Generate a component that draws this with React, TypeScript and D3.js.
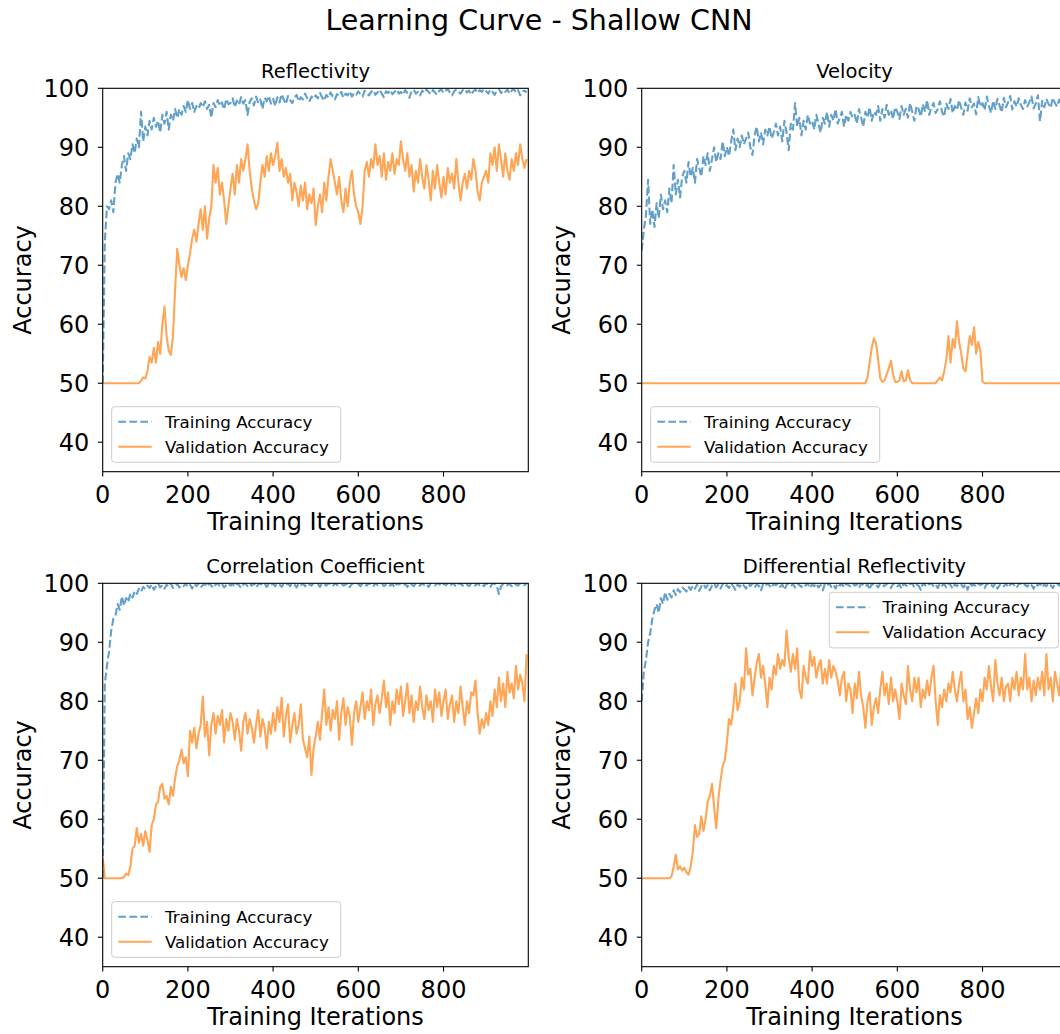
import React from 'react';
import * as d3 from 'd3';

const FIG_TITLE = 'Learning Curve - Shallow CNN';
const PANEL_TITLES = ['Reflectivity', 'Velocity', 'Correlation Coefficient', 'Differential Reflectivity'];
const X_LABEL = 'Training Iterations';
const Y_LABEL = 'Accuracy';
const SERIES_NAMES = ['Training Accuracy', 'Validation Accuracy'];
const X_TICKS = [0, 200, 400, 600, 800];
const Y_TICKS = [40, 50, 60, 70, 80, 90, 100];
const X_DOMAIN = [0, 999];
const Y_DOMAIN = [35, 100];
// one sample every 5 training iterations
const ITERATIONS = d3.range(0, 1000, 5);

const reflectivityTrain = [
  50, 74, 80, 79.5, 81, 79, 84, 85.5, 84, 87, 88.5, 86, 89, 88, 90.5, 89, 91.5, 90, 96, 91,
  93.5, 92, 94.5, 93, 95, 93.5, 94.5, 92.5, 95.5, 94, 96, 93, 95.5, 94.5, 96.5, 95, 96.5, 95.5, 97, 96,
  98, 96.5, 97.5, 96, 97, 96.5, 97.5, 96.8, 97.8, 96.5, 97.2, 95, 97.5, 96.8, 98, 97, 97.6, 96.4, 98.2, 97.3,
  97.5, 98.3, 96.8, 97.9, 97.2, 98.5, 97.4, 98, 95.5, 97.7, 98.3, 97.1, 98.6, 97.5, 98.1, 96.5, 98.4, 97.8, 98.7, 97.4,
  98.2, 97, 98.5, 97.6, 99, 98.1, 97.3, 98.7, 98, 97.5, 98.4, 98.9, 97.8, 98.5, 98.1, 99.1, 98.3, 97.7, 98.6, 98.2,
  98.8, 98.3, 99.2, 98.5, 97.9, 98.9, 98.4, 99.3, 98.6, 98.1, 99, 98.7, 99.4, 98.4, 99.1, 98.8, 99.5, 98.6, 99.2, 98.9,
  99.5, 99, 98.6, 99.6, 99.1, 98.8, 99.4, 99.7, 98.9, 99.3, 99.8, 99.1, 98.5, 99.5, 99.2, 99.7, 99, 99.4, 99.8, 99.1,
  99.4, 98.9, 99.7, 99.2, 98.4, 99.5, 99.8, 99.1, 99.4, 98.8, 99.6, 99.2, 99.8, 99.4, 99, 99.7, 99.3, 98.9, 99.6, 99.8,
  99.2, 99.6, 99.9, 99.3, 98.8, 99.5, 99.8, 99.4, 99.1, 99.7, 99.9, 99.3, 99.6, 98.9, 99.5, 99.8, 99.2, 99.7, 99.4, 99.9,
  99.5, 99.1, 99.8, 99.4, 98.9, 99.6, 99.9, 99.2, 99.7, 99.4, 99.8, 99.1, 99.6, 99.9, 99.3, 99.7, 98.8, 99.5, 99.6, 99.3,
];

const reflectivityVal = [
  50, 50, 50, 50, 50, 50, 50, 50, 50, 50, 50, 50, 50, 50, 50, 50, 50, 50, 50.4, 51,
  50.8, 52, 54.5, 53.5, 56, 53.5, 57, 55, 60, 63, 58, 55.5, 54.8, 58, 66, 72.8, 70, 68, 69.5, 67.5,
  70, 72, 74.5, 76, 74, 77, 79.5, 76, 80, 74.5, 78, 80, 87, 84, 86.5, 82, 84, 81, 77, 80,
  83, 85.5, 82, 87, 84, 88, 86, 88, 90.5, 86, 83, 81, 79.5, 80.5, 84, 87, 85, 88.5, 86, 89,
  87, 88.5, 90.8, 86, 88, 85, 86.5, 84, 85.5, 81, 84, 82.5, 80, 83.5, 81, 84, 79.5, 82, 80.5, 83,
  76.8, 80, 82, 79, 84, 81, 85, 88, 86, 84, 82, 85, 81, 79, 83, 80, 84, 86, 82, 80,
  79, 77, 80, 86, 87.5, 85, 88, 86.5, 90.5, 87, 88.5, 85, 89, 84.5, 87.5, 86, 89, 85.5, 88, 87,
  91, 88, 86, 89, 85, 87, 82.5, 86, 84, 88, 85, 83, 87, 84.5, 81, 86, 83, 87, 84, 81.5,
  85, 82, 86.5, 84, 85.5, 83, 88, 84, 81, 84, 85.5, 83, 86, 84.5, 88, 86, 82.5, 81, 84, 85,
  86, 84, 89, 87, 90, 86, 90.5, 88, 85, 89, 86, 84.5, 88, 86, 89, 87, 90.5, 88, 86.5, 88,
];

const velocityTrain = [
  72.5, 76, 78.5, 84.5, 77, 79.5, 76.5, 80.5, 78, 82, 79.5, 81, 79, 83, 80.5, 87, 82, 84.5, 81.5, 85,
  86, 84, 87.5, 85, 86.5, 84, 88, 86.5, 85, 88.5, 87, 89, 86, 88, 90, 87.5, 89, 88, 91, 88.5,
  90, 88.5, 91, 93, 89.5, 91.5, 90, 92, 90.5, 91.5, 92.5, 90, 88.7, 92, 93.5, 91, 92.5, 90.5, 93, 92,
  93.5, 91.5, 92.5, 94, 92, 93.5, 91, 94.5, 92.5, 89.5, 94, 93, 97.5, 93.5, 95, 92, 94.5, 93, 95.5, 94,
  94.5, 93, 95.5, 94, 92.5, 95, 94, 96, 93.5, 95.5, 94.5, 96.5, 94, 95, 96, 93.5, 95.5, 94.5, 96, 95,
  95.5, 94, 96.5, 95, 93.5, 96, 95, 96.8, 94.5, 96, 95.5, 97, 94.5, 96.5, 95, 97.2, 95.5, 96.3, 94.8, 96.8,
  96, 94.8, 97, 95.5, 96.5, 95, 97.5, 96, 94.5, 97, 96.5, 95.2, 97.3, 96, 98, 95.5, 96.8, 97.5, 95.8, 96.5,
  97.8, 96, 95.2, 97.4, 96.5, 98.2, 95.8, 97, 96.3, 98, 96.7, 95.5, 97.6, 96.2, 98.3, 96.8, 97.4, 95.6, 98.5, 96.9,
  97.5, 96.3, 98.6, 97, 95.8, 97.9, 96.5, 98.2, 97.1, 95.9, 98.4, 96.8, 97.6, 98.7, 96.4, 97.8, 96.9, 98.3, 97.2, 96.5,
  98, 96.9, 97.7, 98.6, 96.6, 97.4, 98.8, 94.4, 97.9, 96.8, 98.2, 97.3, 96.7, 98.4, 97.5, 96.9, 98.1, 97.2, 97.8, 97.1,
];

const velocityVal = [
  50, 50, 50, 50, 50, 50, 50, 50, 50, 50, 50, 50, 50, 50, 50, 50, 50, 50, 50, 50,
  50, 50, 50, 50, 50, 50, 50, 50, 50, 50, 50, 50, 50, 50, 50, 50, 50, 50, 50, 50,
  50, 50, 50, 50, 50, 50, 50, 50, 50, 50, 50, 50, 50, 50, 50, 50, 50, 50, 50, 50,
  50, 50, 50, 50, 50, 50, 50, 50, 50, 50, 50, 50, 50, 50, 50, 50, 50, 50, 50, 50,
  50, 50, 50, 50, 50, 50, 50, 50, 50, 50, 50, 50, 50, 50, 50, 50, 50, 50, 50, 50,
  50, 50, 50, 50, 50, 50, 51, 53.5, 56, 57.6, 56.8, 54, 50.8, 50.2, 50.5, 51.5, 52.5, 53.8, 51.5, 50.2,
  50.2, 50.5, 52, 50.3, 50.5, 52.2, 50.5, 50, 50, 50, 50, 50, 50, 50, 50, 50, 50, 50, 50, 50.5,
  51, 50.5, 52, 54, 58, 53.5, 57.5, 56, 60.5, 57, 55, 52.5, 52, 55, 58, 56.5, 59.5, 55, 57, 55.5,
  50.3, 50, 50, 50, 50, 50, 50, 50, 50, 50, 50, 50, 50, 50, 50, 50, 50, 50, 50, 50,
  50, 50, 50, 50, 50, 50, 50, 50, 50, 50, 50, 50, 50, 50, 50, 50, 50, 50, 50, 50,
];

const correlationTrain = [
  50, 83, 86, 88.5, 92, 94, 94.5, 96.5, 95.5, 97.8, 96.2, 97.5, 96.8, 98.3, 97.6, 98.7, 98.2, 99.1, 98.6, 99.4,
  99, 99.6, 99.2, 99.8, 98.9, 99.5, 100, 99.3, 99.7, 99.1, 99.8, 99.4, 100, 99.2, 99.6, 99.9, 99.3, 99.7, 99.5, 100,
  99.4, 99.8, 99.1, 99.9, 99.5, 100, 99.3, 99.7, 99.9, 99.4, 100, 99.6, 99.2, 99.8, 100, 99.5, 99.9, 99.3, 99.7, 100,
  99.6, 99.9, 99.4, 100, 99.7, 99.2, 99.8, 100, 99.5, 99.9, 99.6, 100, 99.3, 99.8, 100, 99.6, 99.9, 99.4, 100, 99.7,
  99.9, 99.5, 100, 99.8, 99.4, 100, 99.7, 99.9, 99.5, 100, 99.8, 99.3, 100, 99.7, 99.9, 99.5, 100, 99.8, 99.6, 100,
  99.7, 99.9, 99.4, 100, 99.8, 99.6, 100, 99.9, 99.5, 100, 99.7, 99.9, 100, 99.6, 99.8, 100, 99.4, 99.9, 100, 99.7,
  99.9, 99.5, 100, 99.8, 99.6, 100, 99.9, 99.4, 100, 99.7, 99.9, 100, 99.5, 99.8, 100, 99.6, 99.9, 99.3, 100, 99.8,
  100, 99.6, 99.9, 99.4, 100, 99.8, 99.5, 100, 99.9, 99.6, 100, 99.7, 99.9, 99.4, 100, 99.8, 99.6, 100, 99.9, 99.5,
  100, 99.7, 99.9, 99.5, 100, 99.8, 99.4, 100, 99.9, 99.6, 100, 99.8, 99.5, 100, 99.9, 99.6, 100, 99.7, 99.9, 99.5,
  100, 99.8, 99.4, 100, 99.9, 99.6, 98.2, 99.5, 99.9, 100, 99.7, 99.9, 99.5, 100, 99.8, 99.6, 100, 99.9, 99.7, 100,
];

const correlationVal = [
  53.5, 50, 50, 50, 50, 50, 50, 50, 50, 50, 50.2, 50.8, 50.5, 52, 55, 55.5, 58.5, 56, 57.5, 55.5,
  58, 56.5, 54.5, 59, 60, 62.5, 63, 65.5, 66, 63.5, 64, 62.5, 65.5, 64, 67, 69, 70, 71.8, 69.5, 70.5,
  67.3, 75, 73, 75.5, 72, 74.5, 76, 80.8, 74, 76.5, 70.8, 76, 78, 74.5, 77.5, 76, 78.5, 73, 77, 75,
  78, 76.5, 73.5, 77, 75, 71.6, 76.5, 78, 74.5, 77, 75.5, 73, 76, 78.5, 74, 77, 75.5, 72, 76.5, 74.5,
  78, 75, 79, 76.5, 80.6, 74, 77.5, 79.5, 73, 76, 78, 74.5, 76, 79.5, 73.5, 72, 70.5, 74, 67.5, 72,
  74, 76.5, 73.5, 78, 82, 76, 79, 75, 78.5, 77, 80, 73.5, 78, 80.5, 76, 79, 77.5, 72.6, 78, 80,
  76.5, 79, 81.5, 77, 80, 78.5, 82, 76, 79.5, 81, 78, 80.5, 83.5, 79, 81.5, 76, 80, 78, 82, 79.5,
  82.5, 77.5, 80, 83, 78, 81, 76.5, 80, 78.5, 82.5, 79, 77, 81, 78.5, 80, 76.5, 82, 79, 81.5, 77.5,
  80, 82, 77, 79.5, 81, 76.5, 80, 78, 82.5, 79, 76, 80, 78, 81.5, 81, 83.5, 78, 74.5, 77, 75.5,
  78, 76, 80, 77.5, 82, 79, 84, 80, 83, 79, 85, 81.5, 83, 80.5, 86, 82, 84.5, 83, 80, 88,
];

const diffReflectivityTrain = [
  80, 85, 87, 90, 91.5, 94, 95.5, 96.5, 95, 97.5, 96.5, 98.5, 97.2, 98.2, 97.6, 98.8, 98, 99, 98.5, 99.3,
  99, 98.6, 99.4, 98.9, 99.6, 99.1, 99.8, 98.7, 99.5, 99.9, 99.2, 99.7, 98.8, 99.6, 100, 99.3, 99.8, 99.1, 99.9, 99.4,
  99.7, 99.2, 100, 99.5, 98.9, 99.8, 99.4, 100, 99.6, 99.1, 99.9, 99.5, 100, 99.3, 99.8, 99.6, 98.8, 99.9, 99.5, 100,
  99.6, 99.2, 99.9, 99.7, 100, 99.4, 99.8, 98.9, 99.7, 100, 99.5, 99.9, 99.3, 100, 99.7, 99.4, 99.9, 99.6, 100, 99.2,
  99.8, 99.5, 100, 99.3, 99.7, 98.8, 99.9, 99.6, 100, 99.4, 99.8, 99.1, 100, 99.6, 99.9, 99.3, 100, 99.7, 99.5, 100,
  99.6, 99.9, 99.2, 100, 99.7, 99.4, 99.9, 98.9, 100, 99.6, 99.8, 99.3, 100, 99.7, 99.5, 100, 99.8, 99.2, 99.9, 100,
  99.5, 99.8, 99.1, 100, 99.7, 99.4, 99.9, 100, 99.3, 99.8, 99.6, 98.9, 100, 99.7, 99.4, 99.9, 100, 99.5, 99.8, 99.2,
  100, 99.6, 99.9, 99.3, 100, 99.7, 99.1, 99.9, 99.5, 100, 99.8, 99.3, 99.9, 98.9, 100, 99.6, 99.8, 99.4, 100, 99.7,
  99.9, 99.2, 100, 99.6, 99.8, 99.4, 100, 99.1, 99.7, 99.9, 99.5, 100, 99.3, 99.8, 100, 99.6, 99.2, 99.9, 100, 99.5,
  99.8, 99.4, 100, 99.7, 99.1, 99.9, 99.6, 100, 99.3, 99.8, 99.5, 100, 99.7, 99.2, 99.9, 100, 99.6, 99.8, 99.4, 100,
];

const diffReflectivityVal = [
  50, 50, 50, 50, 50, 50, 50, 50, 50, 50, 50, 50, 50, 50, 50.3, 52, 54, 51.5, 52, 51.3,
  51.8, 51, 50.6, 52, 54.5, 59, 57, 57.5, 60.5, 58, 60, 63, 64, 66, 62, 58.5, 63.5, 66.5, 69, 70,
  73, 77, 76, 79, 83, 78.5, 80, 84, 82, 89, 84.5, 85.5, 81, 84, 86.5, 88, 84, 86, 83, 79,
  84, 82, 86, 84.5, 88, 85.5, 87, 86, 92, 87.5, 85, 88, 85.5, 89, 82, 80.5, 86, 84, 83, 88.5,
  86, 87.5, 84, 86, 87, 83, 85.5, 83, 87, 84, 86, 85, 83.5, 81, 84, 85, 80, 83, 82, 78,
  83, 80.5, 85, 81, 79, 75.5, 80, 81.5, 76, 79, 80.5, 78, 82, 85, 81, 83, 79.5, 84, 80, 82,
  80, 77, 83, 81, 79.5, 86, 82, 80, 84, 81.5, 84, 79, 82, 80.5, 83.5, 81, 84, 86, 80, 76,
  81, 79, 82, 80, 83, 81.5, 85, 82, 80, 83, 85, 80, 82, 77, 79, 75.5, 78, 80.5, 78, 82,
  80, 84, 82, 86, 82.5, 80, 87, 83, 81, 84, 80, 82.5, 83, 80, 84, 82, 85, 81, 84, 82,
  88, 82, 84, 80, 83.5, 81, 84, 82, 85, 81, 88, 82, 84, 80, 85, 83, 81, 86, 82, 84,
];

const TRAIN_SERIES = [reflectivityTrain, velocityTrain, correlationTrain, diffReflectivityTrain];
const VAL_SERIES = [reflectivityVal, velocityVal, correlationVal, diffReflectivityVal];
const LEGEND_LOC = ['lower left', 'lower left', 'lower left', 'upper right'];

// layout
const W = 1060;
const H = 1034;
const PANEL_W = 425.6;
const PANEL_H = 383.4;
const PANEL_LEFT = [102.7, 641.7, 102.7, 641.7];
const PANEL_TOP = [88.3, 88.3, 583.3, 583.3];
const FONT = '"DejaVu Sans", Verdana, sans-serif';
const BLUE = '#1f77b4';
const ORANGE = '#ff7f0e';
const TICK = 4.9;
const LW = 2.1;

function Panel({ idx }: { idx: number }) {
  const left = PANEL_LEFT[idx];
  const top = PANEL_TOP[idx];
  const right = left + PANEL_W;
  const bottom = top + PANEL_H;
  const x = d3.scaleLinear().domain(X_DOMAIN).range([left, right]);
  const y = d3.scaleLinear().domain(Y_DOMAIN).range([bottom, top]);
  const line = d3
    .line<number>()
    .x((_, i) => x(ITERATIONS[i]))
    .y((d) => y(d));
  const clipId = `clip-${idx}`;
  const legW = 229;
  const legH = 55.6;
  const loc = LEGEND_LOC[idx];
  const legX = loc === 'upper right' ? right - 9 - legW : left + 9;
  const legY = loc === 'upper right' ? top + 9 : bottom - 9.4 - legH;
  const cx = left + PANEL_W / 2;
  return (
    <g>
      <defs>
        <clipPath id={clipId}>
          <rect x={left} y={top} width={PANEL_W} height={PANEL_H} />
        </clipPath>
      </defs>
      <g clipPath={`url(#${clipId})`}>
        <path
          d={line(TRAIN_SERIES[idx]) || ''}
          fill="none"
          stroke={BLUE}
          strokeOpacity={0.7}
          strokeWidth={LW}
          strokeDasharray="7.7,3.3"
          strokeLinejoin="round"
        />
        <path
          d={line(VAL_SERIES[idx]) || ''}
          fill="none"
          stroke={ORANGE}
          strokeOpacity={0.7}
          strokeWidth={LW}
          strokeLinejoin="round"
        />
      </g>
      {/* spines */}
      <rect x={left} y={top} width={PANEL_W} height={PANEL_H} fill="none" stroke="#000" strokeWidth={1.1} />
      {/* y ticks */}
      {Y_TICKS.map((t) => (
        <g key={`y${t}`}>
          <line x1={left - TICK} x2={left} y1={y(t)} y2={y(t)} stroke="#000" strokeWidth={1.1} />
          <text x={left - 13.5} y={y(t) + 8.6} textAnchor="end" fontSize={24} fontFamily={FONT} fill="#000">
            {t}
          </text>
        </g>
      ))}
      {/* x ticks */}
      {X_TICKS.map((t) => (
        <g key={`x${t}`}>
          <line x1={x(t)} x2={x(t)} y1={bottom} y2={bottom + TICK} stroke="#000" strokeWidth={1.1} />
          <text x={x(t)} y={bottom + 31.3} textAnchor="middle" fontSize={24} fontFamily={FONT} fill="#000">
            {t}
          </text>
        </g>
      ))}
      <text x={cx} y={bottom + 58.3} textAnchor="middle" fontSize={24} fontFamily={FONT} fill="#000">
        {X_LABEL}
      </text>
      <text
        x={left - 71.7}
        y={top + PANEL_H / 2}
        textAnchor="middle"
        fontSize={24}
        fontFamily={FONT}
        fill="#000"
        transform={`rotate(-90, ${left - 71.7}, ${top + PANEL_H / 2})`}
      >
        {Y_LABEL}
      </text>
      <text x={cx} y={top - 10.5} textAnchor="middle" fontSize={19.5} fontFamily={FONT} fill="#000">
        {PANEL_TITLES[idx]}
      </text>
      {/* legend */}
      <g>
        <rect
          x={legX}
          y={legY}
          width={legW}
          height={legH}
          rx={3}
          ry={3}
          fill="#fff"
          fillOpacity={0.8}
          stroke="#cccccc"
          strokeWidth={1}
        />
        {SERIES_NAMES.map((name, k) => {
          const ly = legY + 15 + k * 25;
          return (
            <g key={name}>
              <line
                x1={legX + 6.6}
                x2={legX + 40}
                y1={ly}
                y2={ly}
                stroke={k === 0 ? BLUE : ORANGE}
                strokeOpacity={0.7}
                strokeWidth={LW}
                strokeDasharray={k === 0 ? '7.7,3.3' : undefined}
              />
              <text x={legX + 53.3} y={ly + 6} fontSize={16.7} fontFamily={FONT} fill="#000">
                {name}
              </text>
            </g>
          );
        })}
      </g>
    </g>
  );
}

export default function App() {
  return (
    <div style={{ position: 'absolute', left: 0, top: 0, width: W, height: H, background: '#fff' }}>
      <svg width={W} height={H} viewBox={`0 0 ${W} ${H}`} style={{ display: 'block' }}>
        <rect x={0} y={0} width={W} height={H} fill="#fff" />
        <text x={539} y={30} textAnchor="middle" fontSize={28.5} fontFamily={FONT} fill="#000">
          {FIG_TITLE}
        </text>
        {[0, 1, 2, 3].map((i) => (
          <Panel key={i} idx={i} />
        ))}
      </svg>
    </div>
  );
}
